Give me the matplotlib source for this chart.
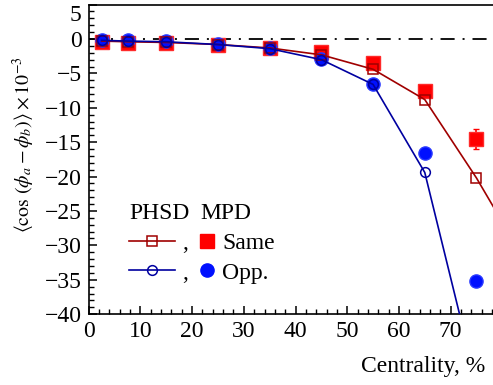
"""
Charge-dependent correlator vs centrality: PHSD model and MPD reconstruction
"""

import matplotlib
matplotlib.use("Agg")
import matplotlib.pyplot as plt
from matplotlib.lines import Line2D
from matplotlib.ticker import MultipleLocator

plt.rcParams['font.family'] = ['Liberation Serif', 'DejaVu Serif']
plt.rcParams['mathtext.fontset'] = 'stix'
plt.rcParams['font.size'] = 17

# Data (x 1e-3)
centrality = [2.5, 7.5, 15, 25, 35, 45, 55, 65, 75]
phsd_cent_same = [2.5, 7.5, 15, 25, 35, 45, 55, 65, 75, 85]
phsd_same = [-0.3, -0.4, -0.5, -0.8, -1.3, -2.3, -4.4, -8.8, -20.2, -33.0]
phsd_cent_opp = [2.5, 7.5, 15, 25, 35, 45, 55, 65, 75]
phsd_opp = [-0.2, -0.3, -0.4, -0.8, -1.4, -3.0, -6.6, -19.4, -50.0]
mpd_same = [-0.5, -0.6, -0.6, -0.9, -1.3, -1.9, -3.5, -7.6, -14.5]
mpd_same_err = [0.1, 0.1, 0.1, 0.1, 0.1, 0.1, 0.1, 0.2, 1.45]
mpd_opp = [-0.2, -0.2, -0.3, -0.7, -1.3, -2.9, -6.6, -16.6, -35.2]
y_ticks = [-40, -35, -30, -25, -20, -15, -10, -5, 0, 5]

RED, BLUE = '#ff0000', '#0010ff'
DRED, DBLUE = '#a00000', '#0000a0'

fig = plt.figure(figsize=(4.93, 3.85), dpi=100)
ax = fig.add_axes([0.180, 0.184, 0.820, 0.804])

ax.axhline(0, color='black', lw=1.3, ls=(0, (7.8, 4.4, 1.1, 4.4)), zorder=1)

# MPD (filled)
ax.errorbar(centrality, mpd_same, yerr=mpd_same_err, fmt='s', color=RED,
            ms=9.5, mec='#ff2a2a', capsize=2, elinewidth=1.2, zorder=3)
ax.plot(centrality, mpd_opp, 'o', color=BLUE, ms=9.5, mec='#2a3aff', zorder=4)

# PHSD (lines + open markers)
ph_same, = ax.plot(phsd_cent_same, phsd_same, '-s', color=DRED, lw=1.2,
                   ms=7.5, mfc='none', mew=1.1, zorder=5)
ph_opp, = ax.plot(phsd_cent_opp, phsd_opp, '-o', color=DBLUE, lw=1.2,
                  ms=7.0, mfc='none', mew=1.1, zorder=5)

ax.set_xlim(0, 78.2)
ax.set_ylim(-40, 5)
ax.xaxis.set_major_locator(MultipleLocator(10))
ax.xaxis.set_minor_locator(MultipleLocator(2))
ax.set_yticks(y_ticks)
ax.yaxis.set_minor_locator(MultipleLocator(1))
ax.tick_params(which='both', direction='in', top=False, right=False)
ax.tick_params(which='major', length=6, width=1.1, pad=5)
ax.tick_params(which='minor', length=3.5, width=1.0)
ax.spines['right'].set_visible(False)
for s in ['left', 'bottom', 'top']:
    ax.spines[s].set_linewidth(1.2)

# keep the top "5" label inside the figure
ax.yaxis.get_major_ticks()[-1].label1.set_verticalalignment('top')

ax.set_xlabel('Centrality, %', ha='right')
ax.xaxis.set_label_coords(0.980, -0.134)
ax.set_ylabel(r'$\langle\cos\,(\phi_a-\phi_b)\rangle\times10^{-3}$', fontsize=14.3)
ax.yaxis.set_label_coords(-0.128, 0.546)

# Legend: PHSD column and MPD column
leg1 = ax.legend([ph_same, ph_opp], [',', ','], loc='upper left',
                 bbox_to_anchor=(0.100, 0.359), frameon=False, title='PHSD',
                 alignment='left', handlelength=1.95, handletextpad=0.3,
                 labelspacing=0.35, borderpad=0, borderaxespad=0,
                 title_fontsize=17)
ax.add_artist(leg1)
mpd_handles = [Line2D([], [], ls='none', marker='s', color=RED, ms=9.5),
               Line2D([], [], ls='none', marker='o', color=BLUE, ms=9.5)]
ax.legend(mpd_handles, ['Same', 'Opp.'], loc='upper left',
          bbox_to_anchor=(0.275, 0.359), frameon=False, title='MPD',
          alignment='left', handlelength=0.6, handletextpad=0.35,
          labelspacing=0.35, borderpad=0, borderaxespad=0, title_fontsize=17)

fig.savefig('out.png', dpi=100)
